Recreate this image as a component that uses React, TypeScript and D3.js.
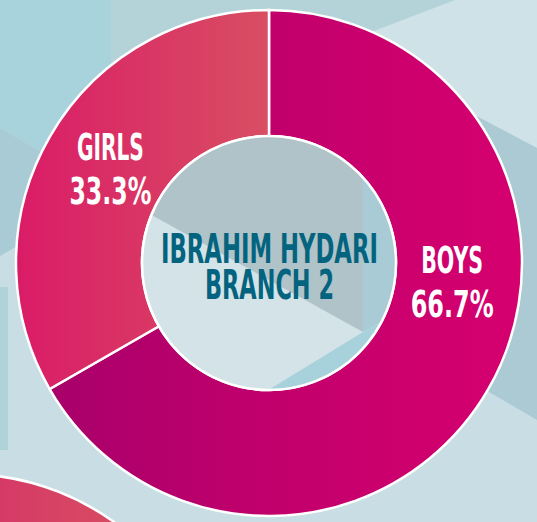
import React, { useLayoutEffect, useRef, useState } from "react";
import * as d3 from "d3";

const categories = ["BOYS", "GIRLS"];
const values = [66.7, 33.3];
const percentLabels = ["66.7%", "33.3%"];
const centerLines = ["IBRAHIM HYDARI", "BRANCH 2"];

const W = 537;
const H = 522;
const CX = 269;
const CY = 263;
const R_OUT = 253;
const R_IN = 127;
const FONT = "'Liberation Sans Narrow', 'DejaVu Sans Condensed', 'Roboto', sans-serif";

const bgPolys: { pts: [number, number][]; fill: string }[] = [
  { pts: [[0, 0], [111, 0], [111, 192], [0, 128]], fill: "#A8D3DC" },
  { pts: [[0, 128], [111, 192], [0, 256]], fill: "#A9CBD5" },
  { pts: [[111, 0], [455, 0], [111, 197]], fill: "#B4D3D9" },
  { pts: [[340, 44], [455, 0], [537, 0], [537, 148]], fill: "#CFE2E7" },
  { pts: [[340, 44], [537, 148], [537, 420], [340, 305]], fill: "#ABCAD4" },
  { pts: [[0, 287], [8, 287], [8, 450], [0, 450]], fill: "#B0D2D9" },
];

const holePolys: { pts: [number, number][]; fill: string }[] = [
  { pts: [[130, 130], [363, 130], [363, 332], [130, 203]], fill: "#AFC3C9" },
  { pts: [[363, 130], [405, 130], [405, 309], [363, 332]], fill: "#A9CBD5" },
  { pts: [[252, 400], [363, 332], [405, 309], [405, 400]], fill: "#A8D2DB" },
];

const line = d3.line();

function FitText(props: {
  x: number;
  y: number;
  width: number;
  size: number;
  fill: string;
  children: string;
}) {
  const ref = useRef<SVGTextElement>(null);
  const [sx, setSx] = useState(1);
  useLayoutEffect(() => {
    if (ref.current) {
      const w = ref.current.getComputedTextLength();
      if (w > 0) setSx(props.width / w);
    }
  }, [props.width, props.children]);
  return (
    <g transform={`translate(${props.x},${props.y}) scale(${sx},1)`}>
      <text
        ref={ref}
        x={0}
        y={0}
        fill={props.fill}
        fontFamily={FONT}
        fontWeight="bold"
        fontSize={props.size}
        textAnchor="middle"
      >
        {props.children}
      </text>
    </g>
  );
}

export default function App() {
  const pie = d3
    .pie<number>()
    .sort(null)
    .startAngle(0)
    .endAngle(2 * Math.PI);
  const arcs = pie(values);
  const arc = d3.arc<d3.PieArcDatum<number>>().innerRadius(R_IN).outerRadius(R_OUT);
  const fills = ["url(#gBoys)", "url(#gGirls)"];
  const labelPolar = [
    { ang: (100 * Math.PI) / 180, r: 186 },
    { ang: (297 * Math.PI) / 180, r: 178 },
  ];
  const lens = [
    [62, 83],
    [67, 82],
  ];

  return (
    <svg
      width={W}
      height={H}
      style={{ position: "absolute", left: 0, top: 0, display: "block" }}
    >
      <defs>
        <linearGradient id="gBoys" gradientUnits="userSpaceOnUse" x1={15 - CX} y1={0} x2={523 - CX} y2={0}>
          <stop offset="0" stopColor="#A4006A" />
          <stop offset="0.5" stopColor="#C1006C" />
          <stop offset="1" stopColor="#D6006F" />
        </linearGradient>
        <linearGradient id="gGirls" gradientUnits="userSpaceOnUse" x1={15 - CX} y1={0} x2={270 - CX} y2={0}>
          <stop offset="0" stopColor="#DA1B67" />
          <stop offset="1" stopColor="#D84F62" />
        </linearGradient>
        <linearGradient id="gOther" gradientUnits="userSpaceOnUse" x1={0} y1={0} x2={120} y2={0}>
          <stop offset="0" stopColor="#D53A66" />
          <stop offset="1" stopColor="#D84C62" />
        </linearGradient>
        <clipPath id="holeClip">
          <circle cx={CX} cy={CY} r={R_IN} />
        </clipPath>
      </defs>

      <rect x={0} y={0} width={W} height={H} fill="#C9DEE4" />
      {bgPolys.map((p, i) => (
        <path key={i} d={line(p.pts) + "Z"} fill={p.fill} />
      ))}

      <circle cx={-35} cy={729} r={255} fill="url(#gOther)" stroke="#FFFFFF" strokeWidth={2.5} />

      <g transform={`translate(${CX},${CY})`}>
        {arcs.map((a, i) => (
          <path key={categories[i]} d={arc(a) || ""} fill={fills[i]} stroke="#FFFFFF" strokeWidth={2.5} />
        ))}
      </g>

      <g clipPath="url(#holeClip)">
        <circle cx={CX} cy={CY} r={R_IN} fill="#D3E3E8" />
        {holePolys.map((p, i) => (
          <path key={i} d={line(p.pts) + "Z"} fill={p.fill} />
        ))}
      </g>
      <circle cx={CX} cy={CY} r={R_IN} fill="none" stroke="#FFFFFF" strokeWidth={2.5} />

      {categories.map((c, i) => {
        const lp = labelPolar[i];
        const x = CX + lp.r * Math.sin(lp.ang);
        const y = CY - lp.r * Math.cos(lp.ang);
        return (
          <g key={c}>
            <FitText x={x} y={y - 22} width={lens[i][0]} size={38} fill="#FFFFFF">
              {c}
            </FitText>
            <FitText x={x} y={y + 22} width={lens[i][1]} size={38} fill="#FFFFFF">
              {percentLabels[i]}
            </FitText>
          </g>
        );
      })}

      <FitText x={CX + 0.5} y={263} width={217} size={41} fill="#04637E">
        {centerLines[0]}
      </FitText>
      <FitText x={CX + 0.5} y={299} width={129} size={41} fill="#04637E">
        {centerLines[1]}
      </FitText>
    </svg>
  );
}
